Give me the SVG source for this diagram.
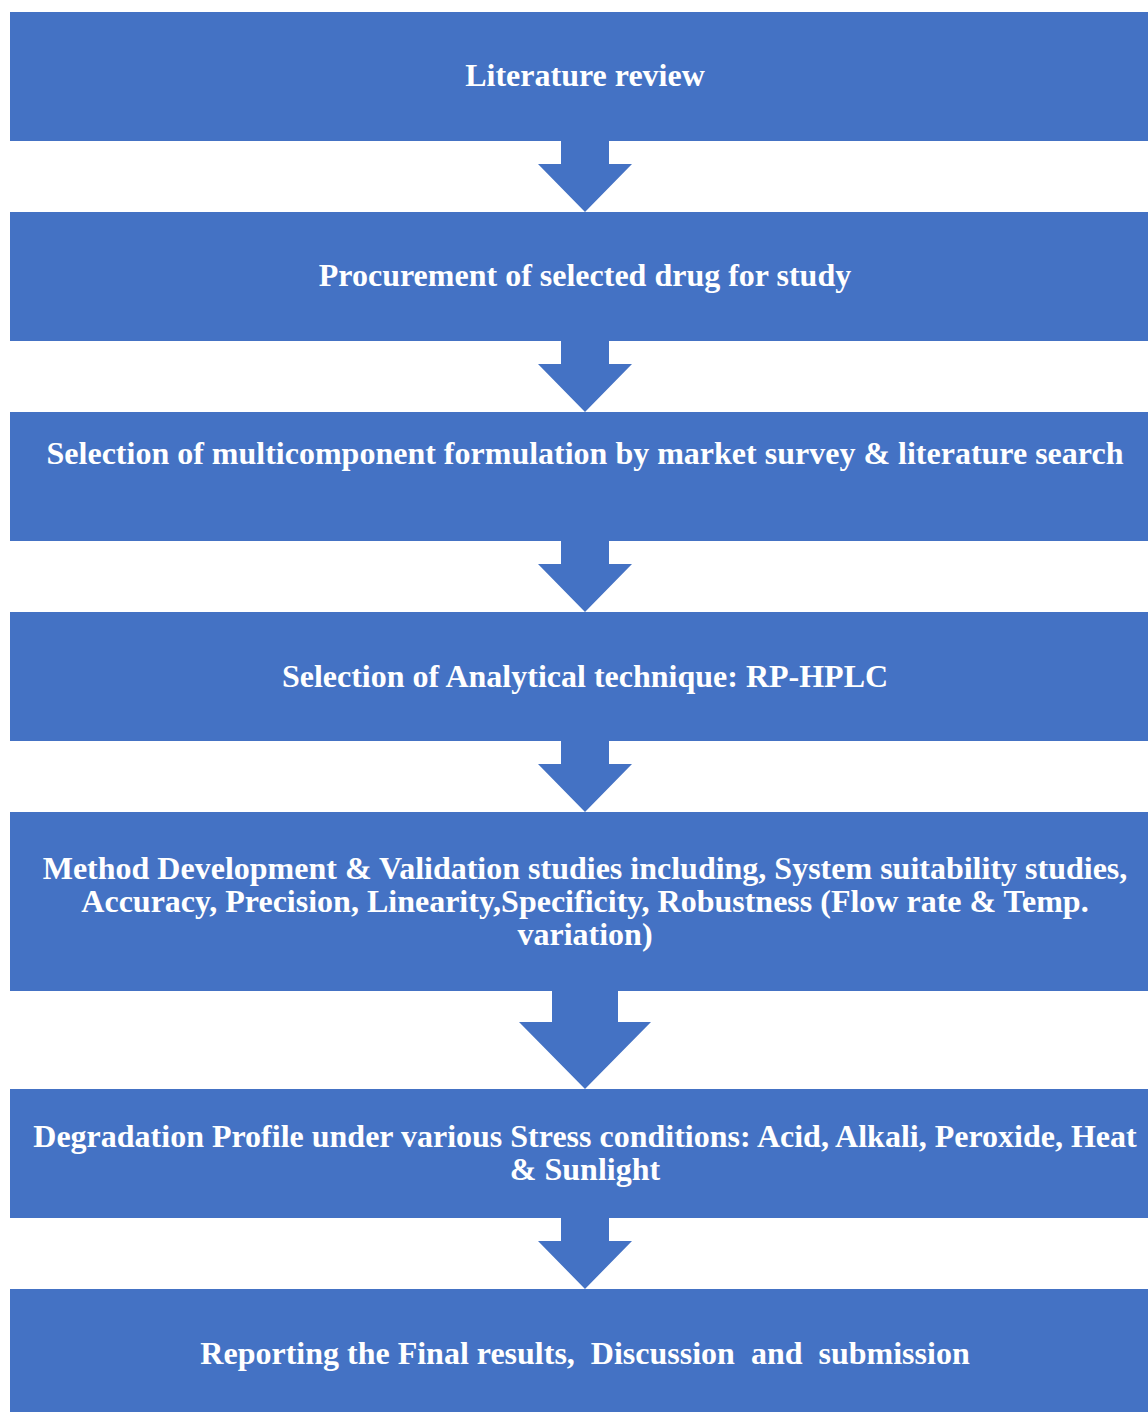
<svg xmlns="http://www.w3.org/2000/svg" width="1148" height="1412" viewBox="0 0 1148 1412">
  <style>
    .box { fill: #4472C4; }
    .arrow { fill: #4472C4; }
    .label { font-family: "Liberation Serif", "Times New Roman", serif; font-weight: bold; font-size: 32px; fill: #FFFFFF; text-anchor: middle; white-space: pre; }
  </style>
  <rect width="1148" height="1412" fill="#FFFFFF"/>

  <g id="connectors">
    <polygon class="arrow" points="561,141 609,141 609,164 632,164 585,212 538,164 561,164"/>
    <polygon class="arrow" points="561,341 609,341 609,364 632,364 585,412 538,364 561,364"/>
    <polygon class="arrow" points="561,541 609,541 609,564 632,564 585,612 538,564 561,564"/>
    <polygon class="arrow" points="561,741 609,741 609,764 632,764 585,812 538,764 561,764"/>
    <polygon class="arrow" points="552,991 618,991 618,1022 651,1022 585,1089 519,1022 552,1022"/>
    <polygon class="arrow" points="561,1218 609,1218 609,1241 632,1241 585,1289 538,1241 561,1241"/>
  </g>

  <g id="step-literature-review">
    <rect class="box" x="10" y="12" width="1138" height="129"/>
    <text class="label" x="585" y="86">Literature review</text>
  </g>

  <g id="step-procurement">
    <rect class="box" x="10" y="212" width="1138" height="129"/>
    <text class="label" x="585" y="286">Procurement of selected drug for study</text>
  </g>

  <g id="step-formulation-selection">
    <rect class="box" x="10" y="412" width="1138" height="129"/>
    <text class="label" x="585" y="464">Selection of multicomponent formulation by market survey &amp; literature search</text>
  </g>

  <g id="step-technique">
    <rect class="box" x="10" y="612" width="1138" height="129"/>
    <text class="label" x="585" y="687">Selection of Analytical technique: RP-HPLC</text>
  </g>

  <g id="step-method-development">
    <rect class="box" x="10" y="812" width="1138" height="179"/>
    <text class="label" x="585" y="879">Method Development &amp; Validation studies including, System suitability studies,</text>
    <text class="label" x="585" y="912">Accuracy, Precision, Linearity,Specificity, Robustness (Flow rate &amp; Temp.</text>
    <text class="label" x="585" y="945">variation)</text>
  </g>

  <g id="step-degradation">
    <rect class="box" x="10" y="1089" width="1138" height="129"/>
    <text class="label" x="585" y="1147">Degradation Profile under various Stress conditions: Acid, Alkali, Peroxide, Heat</text>
    <text class="label" x="585" y="1180">&amp; Sunlight</text>
  </g>

  <g id="step-reporting">
    <rect class="box" x="10" y="1289" width="1138" height="123"/>
    <text class="label" x="585" y="1364">Reporting the Final results,  Discussion  and  submission</text>
  </g>
</svg>
